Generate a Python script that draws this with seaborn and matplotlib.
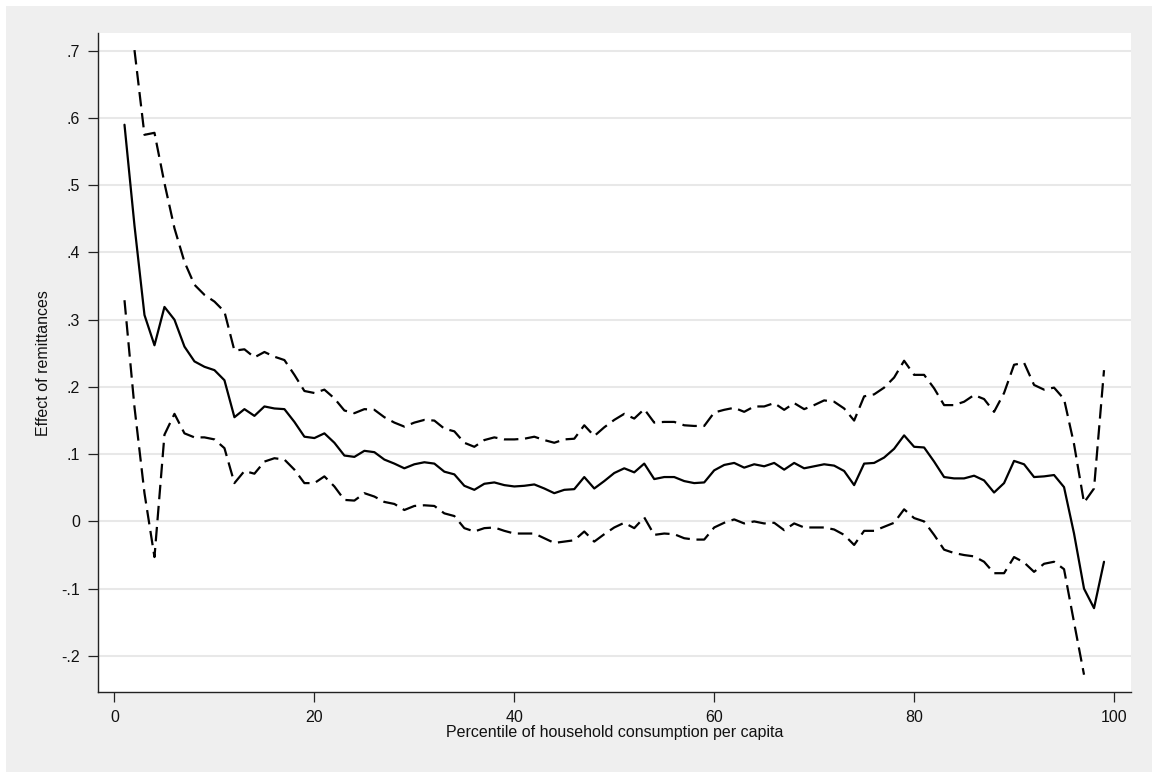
import numpy as np
import pandas as pd
import matplotlib
matplotlib.use("Agg")
import matplotlib.pyplot as plt
from matplotlib.patches import Rectangle
from matplotlib.ticker import FuncFormatter, MultipleLocator
import seaborn as sns

# ---- data (percentiles 1..99) ----
percentile = np.arange(1, 100)

effect = [
    0.590, 0.440, 0.307, 0.262, 0.319, 0.300, 0.260, 0.238, 0.230, 0.225,
    0.210, 0.155, 0.167, 0.157, 0.171, 0.168, 0.167, 0.148, 0.126, 0.124,
    0.131, 0.117, 0.098, 0.096, 0.105, 0.103, 0.092, 0.086, 0.079, 0.085,
    0.088, 0.086, 0.074, 0.070, 0.053, 0.047, 0.056, 0.058, 0.054, 0.052,
    0.053, 0.055, 0.049, 0.042, 0.047, 0.048, 0.066, 0.049, 0.060, 0.072,
    0.079, 0.073, 0.086, 0.063, 0.066, 0.066, 0.060, 0.057, 0.058, 0.076,
    0.084, 0.087, 0.080, 0.085, 0.082, 0.087, 0.077, 0.087, 0.079, 0.082,
    0.085, 0.083, 0.075, 0.054, 0.086, 0.087, 0.095, 0.108, 0.128, 0.111,
    0.110, 0.089, 0.066, 0.064, 0.064, 0.068, 0.061, 0.043, 0.057, 0.090,
    0.085, 0.066, 0.067, 0.069, 0.051, -0.018, -0.100, -0.129, -0.060,
]

ci_upper = [
    np.nan, 0.701, 0.575, 0.578, 0.503, 0.436, 0.386, 0.352, 0.337, 0.327,
    0.312, 0.254, 0.256, 0.244, 0.252, 0.245, 0.240, 0.218, 0.194, 0.191,
    0.196, 0.183, 0.165, 0.161, 0.167, 0.166, 0.155, 0.147, 0.141, 0.147,
    0.151, 0.150, 0.138, 0.134, 0.117, 0.111, 0.121, 0.125, 0.122, 0.122,
    0.123, 0.126, 0.121, 0.117, 0.122, 0.123, 0.143, 0.127, 0.140, 0.151,
    0.160, 0.153, 0.167, 0.147, 0.148, 0.148, 0.143, 0.142, 0.142, 0.162,
    0.166, 0.169, 0.163, 0.171, 0.171, 0.176, 0.166, 0.176, 0.167, 0.173,
    0.180, 0.178, 0.168, 0.150, 0.186, 0.189, 0.199, 0.214, 0.239, 0.218,
    0.218, 0.198, 0.173, 0.173, 0.178, 0.188, 0.182, 0.163, 0.191, 0.233,
    0.236, 0.203, 0.196, 0.199, 0.182, 0.115, 0.028, 0.049, 0.225,
]

ci_lower = [
    0.329, 0.170, 0.042, -0.053, 0.129, 0.160, 0.131, 0.125, 0.125, 0.122,
    0.109, 0.057, 0.075, 0.071, 0.089, 0.094, 0.092, 0.077, 0.057, 0.057,
    0.067, 0.052, 0.032, 0.031, 0.042, 0.037, 0.029, 0.026, 0.017, 0.023,
    0.024, 0.023, 0.012, 0.008, -0.010, -0.015, -0.010, -0.009, -0.014, -0.018,
    -0.018, -0.018, -0.025, -0.032, -0.030, -0.028, -0.015, -0.030, -0.019, -0.009,
    -0.002, -0.010, 0.006, -0.020, -0.018, -0.019, -0.025, -0.027, -0.027, -0.009,
    -0.002, 0.003, -0.003, 0.000, -0.003, -0.002, -0.013, -0.003, -0.009, -0.009,
    -0.009, -0.012, -0.020, -0.035, -0.014, -0.014, -0.008, -0.002, 0.018, 0.005,
    0.000, -0.020, -0.042, -0.047, -0.050, -0.052, -0.060, -0.077, -0.077, -0.053,
    -0.061, -0.075, -0.063, -0.060, -0.071, -0.150, -0.228, np.nan, np.nan,
]

x_ticks = [0, 20, 40, 60, 80, 100]
x_label = "Percentile of household consumption per capita"
y_label = "Effect of remittances"

# long table for seaborn
df = pd.DataFrame({
    "pct": np.tile(percentile, 3),
    "value": np.concatenate([effect, ci_upper, ci_lower]),
    "series": np.repeat(["effect", "upper", "lower"], len(percentile)),
})

sns.set_style("white")
plt.rcParams["font.family"] = ["Liberation Sans", "DejaVu Sans"]

W, H = 1152, 772
fig = plt.figure(figsize=(W / 100, H / 100), dpi=100)
fig.patch.set_facecolor("white")
# grey graph region (thin white strip on top and left like the original)
fig.patches.append(Rectangle((6 / W, 0), 1, 1 - 6 / H, transform=fig.transFigure,
                             facecolor="#efefef", edgecolor="none", zorder=-10))

left, right, top, bottom = 97.5, 1131, 33.3, 692
ax = fig.add_axes([left / W, 1 - bottom / H, (right - left) / W, (bottom - top) / H])
ax.set_facecolor("white")

dash = (6.5, 3.0)
sns.lineplot(data=df, x="pct", y="value", style="series",
             dashes={"effect": "", "upper": dash, "lower": dash},
             color="black", linewidth=1.6, estimator=None, sort=False,
             legend=False, ax=ax, zorder=3)

ax.set_xlim(-1.7, 101.7)
ax.set_ylim(-0.2537, 0.726)
ax.set_xticks(x_ticks)
ax.yaxis.set_major_locator(MultipleLocator(0.1))


def stata_fmt(v, pos):
    s = f"{round(v, 2):g}"
    if s in ("-0", "0"):
        return "0"
    return s.replace("0.", ".")


ax.yaxis.set_major_formatter(FuncFormatter(stata_fmt))
ax.grid(axis="y", color="#e8e8e8", linewidth=1.5, zorder=0)
ax.grid(axis="x", visible=False)
ax.set_axisbelow(True)

for side in ("top", "right"):
    ax.spines[side].set_visible(False)
for side in ("left", "bottom"):
    ax.spines[side].set_color("#222222")
    ax.spines[side].set_linewidth(1.0)

ax.tick_params(axis="both", which="major", direction="out", length=7.2, width=0.9,
               color="#222222", labelsize=11.5, labelcolor="#111111", pad=5.5,
               left=True, bottom=True)

ax.set_xlabel(x_label, fontsize=11.5, color="#111111")
ax.set_ylabel(y_label, fontsize=11.5, color="#111111")
ax.xaxis.set_label_coords(0.5, -0.050)
ax.yaxis.set_label_coords(-0.045, 0.5)

fig.savefig("out.png", dpi=100, facecolor=fig.get_facecolor())
